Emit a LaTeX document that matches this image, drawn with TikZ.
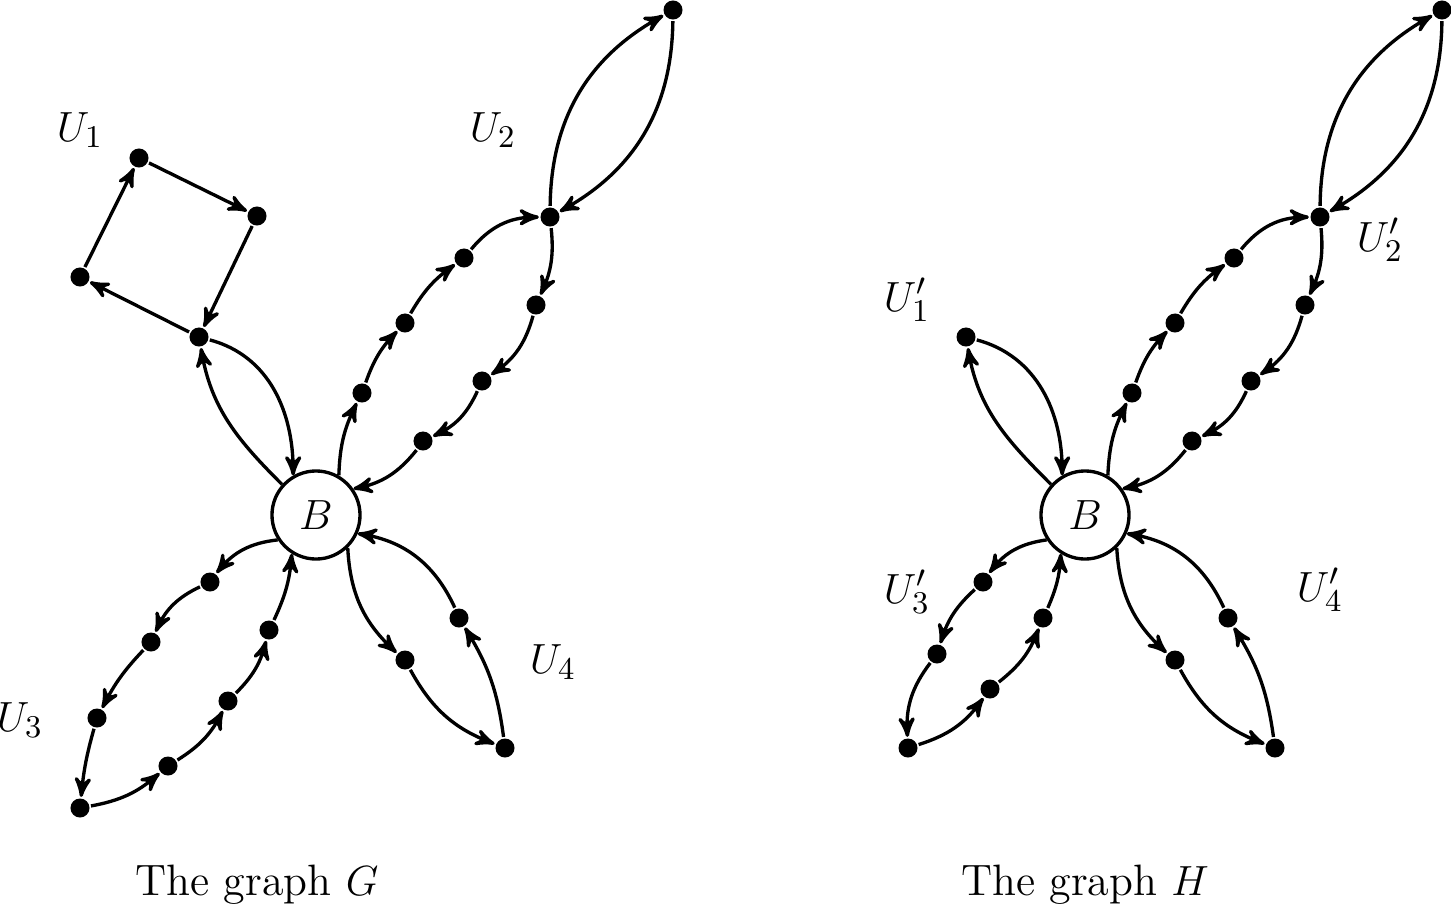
\documentclass[tikz,border=0pt]{standalone}
\usetikzlibrary{arrows}
\begin{document}
\begin{tikzpicture}[x=0.01cm,y=-0.01cm,>=stealth',
  every path/.style={line width=0.95pt},
  dot/.style={circle,fill=black,inner sep=0pt,minimum size=0.19cm},
  bnode/.style={circle,draw,line width=0.95pt,minimum size=0.88cm,inner sep=0pt,font=\fontsize{12.5}{15}\selectfont},
  lab/.style={font=\fontsize{12.5}{15}\selectfont},
  bl/.style={->,bend left=#1},
  br/.style={->,bend right=#1}]
\useasboundingbox (0,0) rectangle (1451,912);
% ---------- Graph G ----------
\node[bnode] (B) at (316,515) {$B$};
% U1
\node[dot] (a1) at (139,158) {};
\node[dot] (a2) at (257,216) {};
\node[dot] (a3) at (199,337) {};
\node[dot] (a4) at (80,277) {};
\draw[->] (a4) -- (a1);
\draw[->] (a1) -- (a2);
\draw[->] (a2) -- (a3);
\draw[->] (a3) -- (a4);
\draw[->] (B.138) to[out=135,in=-80] (a3);
\draw[->] (a3) to[out=-15,in=90] (B.120);
\node[lab] (l1) at (80,130) {$U_1$};
% U2
\node[dot] (b1) at (362,393) {};
\node[dot] (b2) at (405,323) {};
\node[dot] (b3) at (464,258) {};
\node[dot] (b4) at (550,217) {};
\node[dot] (b5) at (673,10) {};
\node[dot] (b6) at (536,305) {};
\node[dot] (b7) at (482,381) {};
\node[dot] (b8) at (423,441) {};
\draw (B.60) edge[bl=12] (b1);
\draw (b1) edge[bl=12] (b2);
\draw (b2) edge[bl=12] (b3);
\draw (b3) edge[bl=25] (b4);
\draw (b4) edge[bl=30] (b5);
\draw (b5) edge[bl=30] (b4);
\draw (b4) edge[bl=15] (b6);
\draw (b6) edge[bl=20] (b7);
\draw (b7) edge[bl=20] (b8);
\draw (b8) edge[bl=20] (B.35);
\node[lab] (l2) at (493,130) {$U_2$};
% U3
\node[dot] (c1) at (210,582) {};
\node[dot] (c2) at (151,642) {};
\node[dot] (c3) at (97,718) {};
\node[dot] (c4) at (80,808) {};
\node[dot] (c5) at (168,766) {};
\node[dot] (c6) at (228,701) {};
\node[dot] (c7) at (269,630) {};
\draw (B.213) edge[br=22] (c1);
\draw (c1) edge[br=20] (c2);
\draw (c2) edge[br=8] (c3);
\draw (c3) edge[br=5] (c4);
\draw (c4) edge[br=15] (c5);
\draw (c5) edge[br=15] (c6);
\draw (c6) edge[br=15] (c7);
\draw (c7) edge[br=10] (B.238);
\node[lab] (l3) at (20,720) {$U_3$};
% U4
\node[dot] (d1) at (405,660) {};
\node[dot] (d2) at (505,748) {};
\node[dot] (d3) at (459,618) {};
\draw (B.314) edge[br=22] (d1);
\draw (d1) edge[br=20] (d2);
\draw (d2) edge[br=12] (d3);
\draw (d3) edge[br=28] (B.336);
\node[lab] (l4) at (553,662) {$U_4$};
\node[lab] (cg) at (257,885) {The graph $G$};
% ---------- Graph H ----------
\node[bnode] (H) at (1085,515) {$B$};
% U1'
\node[dot] (e1) at (966,337) {};
\draw[->] (H.138) to[out=135,in=-80] (e1);
\draw[->] (e1) to[out=-15,in=90] (H.120);
\node[lab] (m1) at (907,300) {$U_1'$};
% U2'
\node[dot] (f1) at (1132,393) {};
\node[dot] (f2) at (1175,323) {};
\node[dot] (f3) at (1234,258) {};
\node[dot] (f4) at (1320,217) {};
\node[dot] (f5) at (1442,10) {};
\node[dot] (f6) at (1305,305) {};
\node[dot] (f7) at (1251,381) {};
\node[dot] (f8) at (1192,441) {};
\draw (H.60) edge[bl=12] (f1);
\draw (f1) edge[bl=12] (f2);
\draw (f2) edge[bl=12] (f3);
\draw (f3) edge[bl=25] (f4);
\draw (f4) edge[bl=30] (f5);
\draw (f5) edge[bl=30] (f4);
\draw (f4) edge[bl=15] (f6);
\draw (f6) edge[bl=20] (f7);
\draw (f7) edge[bl=20] (f8);
\draw (f8) edge[bl=20] (H.35);
\node[lab] (m2) at (1380,240) {$U_2'$};
% U3'
\node[dot] (g1) at (983,582) {};
\node[dot] (g2) at (937,654) {};
\node[dot] (g3) at (908,748) {};
\node[dot] (g4) at (990,689) {};
\node[dot] (g5) at (1043,618) {};
\draw (H.213) edge[br=22] (g1);
\draw (g1) edge[br=15] (g2);
\draw (g2) edge[br=20] (g3);
\draw (g3) edge[br=18] (g4);
\draw (g4) edge[br=15] (g5);
\draw (g5) edge[br=10] (H.238);
\node[lab] (m3) at (907,592) {$U_3'$};
% U4'
\node[dot] (h1) at (1175,660) {};
\node[dot] (h2) at (1275,748) {};
\node[dot] (h3) at (1228,618) {};
\draw (H.314) edge[br=22] (h1);
\draw (h1) edge[br=20] (h2);
\draw (h2) edge[br=12] (h3);
\draw (h3) edge[br=28] (H.336);
\node[lab] (m4) at (1320,590) {$U_4'$};
\node[lab] (ch) at (1085,885) {The graph $H$};
\end{tikzpicture}
\end{document}
